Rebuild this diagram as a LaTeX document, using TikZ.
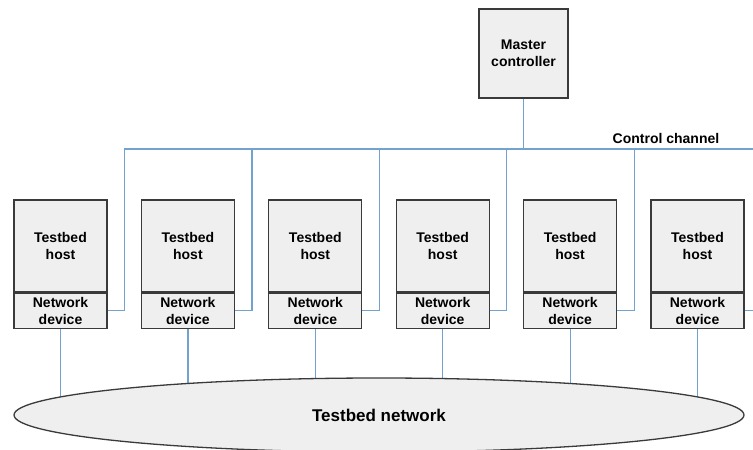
\documentclass[tikz,border=0pt]{standalone}
\usepackage{fontspec}
\setmainfont{Liberation Sans}
\usetikzlibrary{shapes.geometric,backgrounds}
\definecolor{boxgray}{HTML}{EFEFEF}
\definecolor{edgegray}{HTML}{3A3A3A}
\definecolor{linkblue}{HTML}{74A2CF}
\begin{document}
\begin{tikzpicture}[x=1pt, y=-1pt,
  every node/.append style={font=\bfseries\fontsize{14}{17}\selectfont, align=center, inner sep=0pt},
  unit/.style={draw=edgegray, fill=boxgray, line width=1.3pt, minimum width=93pt},
  link/.style={draw=linkblue, line width=1.2pt}]
  \useasboundingbox (0,0) rectangle (753,450);
  \node[unit, minimum width=89pt, minimum height=89pt] (master) at (523.5,53.5) {Master\\controller};
  \coordinate (tap) at (523.5,149);
  \node[anchor=south] (chanlabel) at (666,144) {Control channel};
  \node[ellipse, draw=edgegray, fill=boxgray, line width=1.3pt, minimum width=730pt, minimum height=74pt,
        font=\bfseries\fontsize{17}{20}\selectfont] (net) at (379,415) {Testbed network};
  \draw[link] (master) -- (tap);
  \foreach \i in {0,...,5} {
    \node[unit, minimum height=92pt] (host\i) at (60.5+127.4*\i,246) {Testbed\\host};
    \node[unit, minimum height=35pt, anchor=north] (dev\i) at (host\i.south) {Network\\device};
    \draw[link] (dev\i.east) -- ++(17,0) |- (tap);
  }
  \begin{pgfonlayer}{background}
    \foreach \i in {0,...,5}
      \draw[link] (dev\i.south) -- (dev\i.south |- net.center);
  \end{pgfonlayer}
\end{tikzpicture}
\end{document}
